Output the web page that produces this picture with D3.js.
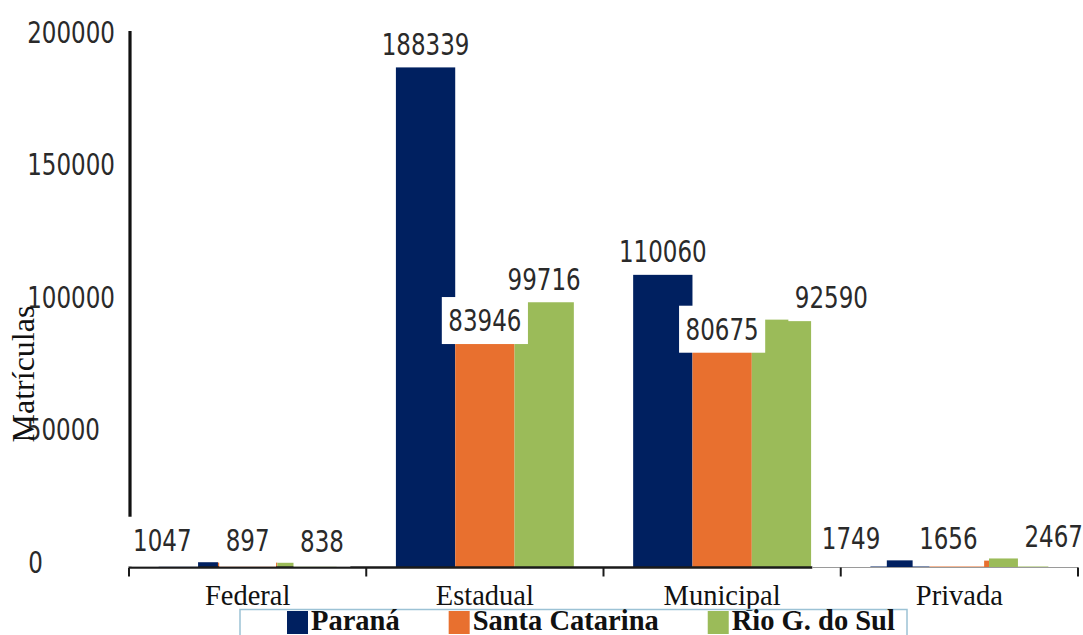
<!DOCTYPE html>
<html>
<head>
<meta charset="utf-8">
<script src="https://cdn.jsdelivr.net/npm/d3@7"></script>
<style>
  html, body { margin: 0; padding: 0; background: #fff; }
  svg { display: block; }
</style>
</head>
<body>
<svg id="chart" width="1083" height="635"></svg>
<script>
// ---- data ----
const categories = ["Federal", "Estadual", "Municipal", "Privada"];
const seriesNames = ["Paraná", "Santa Catarina", "Rio G. do Sul"];
const parana = [1047, 188339, 110060, 1749];
const santaCatarina = [897, 83946, 80675, 1656];
const rioGrandeDoSul = [838, 99716, 92590, 2467];
const yTickValues = [0, 50000, 100000, 150000, 200000];
const yAxisTitle = "Matrículas";

// ---- layout / style constants ----
const colors = ["#002060", "#E8702F", "#9BBB59"];
const W = 1083, H = 635;
const plotLeft = 129, plotRight = 1078, yZero = 567, yTop = 37;
// horizontal nudges of value labels (in px), per category x series
const labelShift = [[-26, 0, 15], [0, 0, 0], [0, 0, 50], [-49, -11, 35]];
// right edges of y tick labels (as laid out in the reference)
const tickLabelRight = [43, 100, 115, 115, 115];
const numFont = "'DejaVu Sans', sans-serif";
const serifFont = "'Liberation Serif', 'Times New Roman', serif";

const seriesValues = [parana, santaCatarina, rioGrandeDoSul];

const svg = d3.select("#chart");
svg.append("rect").attr("width", W).attr("height", H).attr("fill", "#fff");

const x0 = d3.scaleBand().domain(categories).range([plotLeft, plotRight]).padding(0);
const bw = x0.bandwidth();
const x1 = d3.scaleBand().domain(seriesNames).range([0, bw]).paddingInner(0).paddingOuter(0.5);
const y = d3.scaleLinear().domain([0, 200000]).range([yZero, yTop]);

// ---- bars ----
const barData = [];
categories.forEach((c, ci) => {
  seriesNames.forEach((s, si) => {
    barData.push({ c, ci, s, si, v: seriesValues[si][ci] });
  });
});

svg.append("g").selectAll("rect").data(barData).join("rect")
  .attr("x", d => x0(d.c) + x1(d.s))
  .attr("y", d => y(d.v) - 2)
  .attr("width", x1.bandwidth())
  .attr("height", d => y(0) - y(d.v) + 2)
  .attr("fill", d => colors[d.si]);

// ---- axes lines ----
const axisY = y(0) + 0.5;
const blackEnd = x0("Privada") - bw * 0.12;
const axes = svg.append("g");
axes.append("line")
  .attr("x1", plotLeft).attr("x2", blackEnd)
  .attr("y1", axisY).attr("y2", axisY)
  .attr("stroke", "#1a1a1a").attr("stroke-width", 2.5);
axes.append("line")
  .attr("x1", blackEnd).attr("x2", plotRight)
  .attr("y1", axisY).attr("y2", axisY)
  .attr("stroke", "#9a9a9a").attr("stroke-width", 1.2);
const tickXs = [plotLeft].concat(categories.map(c => x0(c) + bw));
axes.selectAll("line.tick").data(tickXs).join("line")
  .attr("class", "tick")
  .attr("x1", d => d).attr("x2", d => d)
  .attr("y1", axisY).attr("y2", axisY + 9)
  .attr("stroke", "#1a1a1a").attr("stroke-width", 2);
axes.append("line")
  .attr("x1", plotLeft + 1).attr("x2", plotLeft + 1)
  .attr("y1", y(200000) - 6).attr("y2", y(0))
  .attr("stroke", "#111").attr("stroke-width", 3.2);

// ---- value labels with white boxes ----
const labG = svg.append("g");
barData.forEach(d => {
  const cx = x0(d.c) + x1(d.s) + x1.bandwidth() / 2 + labelShift[d.ci][d.si];
  const cy = y(d.v) - 24;
  const g = labG.append("g").attr("transform", `translate(${cx},${cy})`);
  const box = g.append("rect").attr("fill", "#fff");
  const t = g.append("text")
    .attr("transform", "scale(1,1.3)")
    .attr("text-anchor", "middle")
    .attr("dy", "0.36em")
    .attr("font-family", numFont)
    .attr("font-size", 23)
    .attr("fill", "#2a2a2a")
    .text(d.v);
  const w = t.node().getComputedTextLength() + 13;
  const barH = y(0) - y(d.v);
  // for the tiny bars the label box reaches down to the baseline
  const bottom = barH < 20 ? (y(0) - 0.5 - cy) : 23.5;
  box.attr("x", -w / 2).attr("y", -23.5).attr("width", w).attr("height", 23.5 + bottom);
});

// ---- y tick labels ----
const yl = svg.append("g");
yTickValues.forEach((v, i) => {
  yl.append("g")
    .attr("transform", `translate(${tickLabelRight[i]},${y(v) - 5})`)
    .append("text")
    .attr("transform", "scale(1,1.3)")
    .attr("text-anchor", "end")
    .attr("dy", "0.36em")
    .attr("font-family", numFont)
    .attr("font-size", 23)
    .attr("fill", "#2a2a2a")
    .text(v);
});

// ---- y axis title ----
svg.append("text")
  .attr("transform", `translate(34,374) rotate(-90)`)
  .attr("text-anchor", "middle")
  .attr("font-family", serifFont)
  .attr("font-size", 32)
  .attr("fill", "#111")
  .text(yAxisTitle);

// ---- category labels ----
svg.append("g").selectAll("text").data(categories).join("text")
  .attr("x", c => x0(c) + bw / 2)
  .attr("y", 605)
  .attr("text-anchor", "middle")
  .attr("font-family", serifFont)
  .attr("font-size", 28.5)
  .attr("fill", "#111")
  .text(c => c);

// ---- legend ----
const leg = svg.append("g");
leg.append("rect")
  .attr("x", 240).attr("y", 609.5).attr("width", 667).attr("height", 40)
  .attr("fill", "none").attr("stroke", "#9CC2D5").attr("stroke-width", 1.5);
let lx = 287;
seriesNames.forEach((s, i) => {
  leg.append("rect").attr("x", lx).attr("y", 611).attr("width", 21).attr("height", 23)
    .attr("fill", colors[i]);
  const t = leg.append("text")
    .attr("x", lx + 24).attr("y", 630)
    .attr("font-family", serifFont)
    .attr("font-weight", "bold")
    .attr("font-size", 28.5)
    .attr("fill", "#111")
    .text(s);
  lx = lx + 24 + t.node().getComputedTextLength() + 49;
});
</script>
</body>
</html>
